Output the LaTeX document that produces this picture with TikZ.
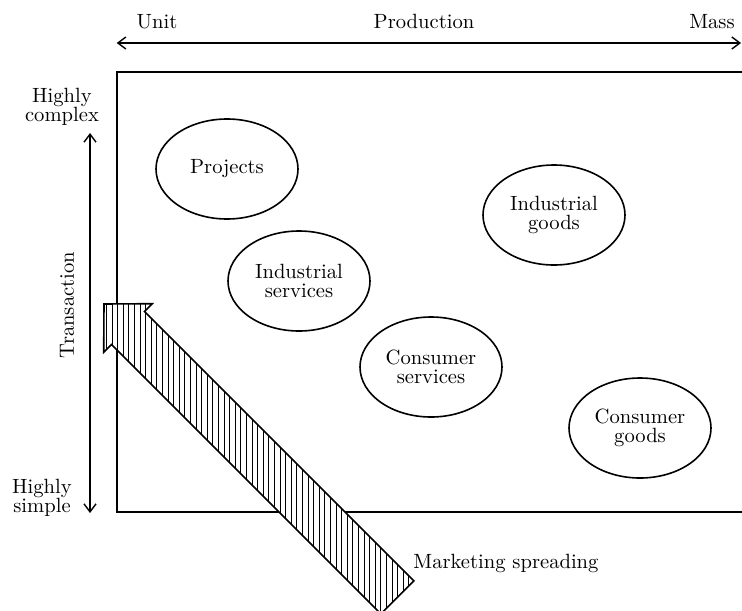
\documentclass[tikz,border=0pt]{standalone}
\usepackage{tikz}
\usetikzlibrary{arrows.meta,patterns.meta,shapes.geometric}

\newcommand{\lbl}{\fontsize{10.3}{9.4}\selectfont}
\tikzset{
  sector/.style={draw, ellipse, line width=0.8pt, minimum width=71pt, minimum height=50pt, inner sep=0pt, align=center, font=\lbl},
  axislabel/.style={font=\lbl, align=center, inner sep=0pt},
}

\begin{document}
\begin{tikzpicture}[x=0.5pt, y=-0.5pt, >={Straight Barb[length=4pt,width=6pt]}]
    \useasboundingbox (0,0) rectangle (742,610);

    % draw frame (open to the right)
    \draw[line width=1pt] (742,72) -- (116.7,72) -- (116.7,512) -- (742,512);

    % draw production axis
    \coordinate (unitend) at (116.7,43);
    \coordinate (massend) at (741,43);
    \draw[<->, line width=0.7pt] (unitend) -- (massend);
    \node[axislabel, anchor=base] (unit) at (157,29) {Unit};
    \node[axislabel, anchor=base] (production) at (424,29) {Production};
    \node[axislabel, anchor=base] (mass) at (712,29) {Mass};

    % draw transaction axis
    \coordinate (complexend) at (90,133);
    \coordinate (simpleend) at (90,513);
    \draw[<->, line width=0.7pt] (simpleend) -- (complexend);
    \node[axislabel] (complex) at (62,107) {Highly\\complex};
    \node[axislabel] (simple) at (42,498) {Highly\\simple};
    \node[axislabel, rotate=90] (transaction) at (67,305) {Transaction};

    % draw hatched arrow
    \draw[line width=0.8pt, preaction={fill=white},
          pattern={Lines[angle=90, distance=2.8pt, line width=0.45pt]}]
      (104,304) -- (152.3,303.7) -- (144.5,311.5) -- (413.9,580.9)
      -- (380.9,613.9) -- (111.5,344.5) -- (103.7,352.3) -- cycle;
    \node[axislabel, anchor=base west] (spreading) at (413,568) {Marketing spreading};

    % draw sectors
    \node[sector] (projects) at (227,169) {Projects};
    \node[sector] (indserv) at (299,281) {Industrial\\services};
    \node[sector] (indgoods) at (554,215) {Industrial\\goods};
    \node[sector] (conserv) at (431,367) {Consumer\\services};
    \node[sector] (congoods) at (640,428) {Consumer\\goods};
\end{tikzpicture}
\end{document}
